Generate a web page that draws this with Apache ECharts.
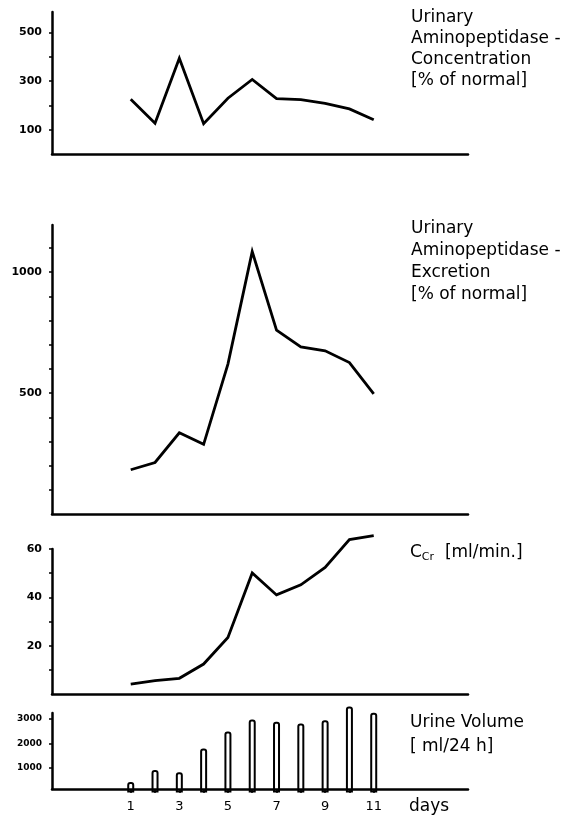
<!DOCTYPE html>
<html>
<head>
<meta charset="utf-8">
<title>Urinary aminopeptidase</title>
<script src="https://cdn.jsdelivr.net/npm/echarts@6/dist/echarts.min.js"></script>
<style>
  html, body { margin: 0; padding: 0; background: #fff; }
  #chart { width: 578px; height: 818px; }
</style>
</head>
<body>
<div id="chart"></div>
<script>
// days of observation
const days = [1, 2, 3, 4, 5, 6, 7, 8, 9, 10, 11]
const dayLabels = [1, 3, 5, 7, 9, 11]

// urinary aminopeptidase concentration [% of normal]
const concentration = [226, 127, 394, 125, 230, 307, 228, 224, 209, 186, 141]
// urinary aminopeptidase excretion [% of normal]
const excretion = [183, 213, 336, 288, 620, 1085, 760, 691, 675, 626, 497]
// creatinine clearance [ml/min.]
const clearance = [4.1, 5.5, 6.5, 12.4, 23.4, 50.1, 41, 45.2, 52.4, 63.9, 65.5]
// urine volume [ml/24 h]
const urineVolume = [430, 920, 820, 1790, 2490, 2970, 2880, 2810, 2940, 3510, 3250]

// y ticks and labels per panel
const concTicks = [100, 200, 300, 400, 500]
const concLabels = [100, 300, 500]
const excrTicks = [100, 200, 300, 400, 500, 600, 700, 800, 900, 1000, 1100]
const excrLabels = [500, 1000]
const clearTicks = [10, 20, 30, 40, 50, 60]
const clearLabels = [20, 40, 60]
const volTicks = [1000, 2000, 3000]
const volLabels = [1000, 2000, 3000]

const pairs = function(values) {
  return values.map(function(v, i) { return [days[i], v] })
}

const LABEL_FONT = 'DejaVu Sans'
const TEXT_FONT = '17px "DejaVu Sans"'

function axisLine() {
  return { show: true, onZero: false, lineStyle: { color: '#000', width: 2.5 } }
}

function xAxisFor(gridIndex, bottom) {
  return {
    type: 'value',
    gridIndex: gridIndex,
    min: -2.24,
    max: 14.88,
    z: 3,
    splitLine: { show: false },
    axisLine: axisLine(),
    axisTick: bottom
      ? { show: true, customValues: days, length: 4, lineStyle: { color: '#000', width: 1.5 } }
      : { show: false },
    axisLabel: bottom
      ? {
        show: true,
        customValues: dayLabels,
        formatter: function(v) { return String(v) },
        color: '#000',
        fontSize: 13,
        fontFamily: LABEL_FONT,
        margin: 11
      }
      : { show: false }
  }
}

function yAxisFor(gridIndex, min, max, ticks, labels, size) {
  return {
    type: 'value',
    gridIndex: gridIndex,
    min: min,
    max: max,
    splitLine: { show: false },
    axisLine: axisLine(),
    axisTick: { show: true, customValues: ticks, length: 3, lineStyle: { color: '#000', width: 1.5 } },
    axisLabel: {
      show: true,
      customValues: labels,
      formatter: function(v) { return String(v) },
      color: '#000',
      fontSize: size,
      fontWeight: 'bold',
      fontFamily: LABEL_FONT,
      margin: 10
    }
  }
}

function lineSeries(idx, values) {
  return {
    type: 'line',
    xAxisIndex: idx,
    yAxisIndex: idx,
    data: pairs(values),
    symbol: 'none',
    clip: false,
    lineStyle: { color: '#000', width: 2.8, join: 'miter' },
    silent: true
  }
}

function textLines(x, ys, lines) {
  return lines.map(function(t, i) {
    return {
      type: 'text',
      left: x,
      top: ys[i] - 10,
      style: { text: t, fill: '#000', font: TEXT_FONT }
    }
  })
}

const chart = echarts.init(document.getElementById('chart'), null, { renderer: 'canvas' })

chart.setOption({
  backgroundColor: '#fff',
  animation: false,
  grid: [
    { left: 52, top: 12, width: 416, height: 142 },
    { left: 52, top: 225, width: 416, height: 289 },
    { left: 52, top: 549, width: 416, height: 145 },
    { left: 52, top: 713, width: 416, height: 76 }
  ],
  xAxis: [
    xAxisFor(0, false),
    xAxisFor(1, false),
    xAxisFor(2, false),
    xAxisFor(3, true)
  ],
  yAxis: [
    yAxisFor(0, 0, 585, concTicks, concLabels, 11),
    yAxisFor(1, 0, 1195, excrTicks, excrLabels, 11),
    yAxisFor(2, 0, 60, clearTicks, clearLabels, 11),
    yAxisFor(3, 140, 3240, volTicks, volLabels, 9)
  ],
  series: [
    lineSeries(0, concentration),
    lineSeries(1, excretion),
    lineSeries(2, clearance),
    {
      type: 'bar',
      xAxisIndex: 3,
      yAxisIndex: 3,
      data: pairs(urineVolume),
      barWidth: 7,
      clip: false,
      silent: true,
      itemStyle: { color: '#fff', borderColor: '#000', borderWidth: 2, borderRadius: [2, 2, 0, 0] }
    }
  ],
  graphic: [].concat(
    textLines(411, [19, 40, 61, 82], ['Urinary', 'Aminopeptidase -', 'Concentration', '[% of normal]']),
    textLines(411, [230, 252, 274, 296], ['Urinary', 'Aminopeptidase -', 'Excretion', '[% of normal]']),
    [{
      type: 'text',
      left: 410,
      top: 544,
      style: {
        text: '{c|C}{s|Cr}{c|  [ml/min.]}',
        rich: {
          c: { fill: '#000', font: TEXT_FONT },
          s: { fill: '#000', font: '11px "DejaVu Sans"', padding: [9, 0, 0, 0] }
        }
      }
    }],
    textLines(410, [724, 748], ['Urine Volume', '[ ml/24 h]']),
    [{
      type: 'text',
      left: 409,
      top: 798,
      style: { text: 'days', fill: '#000', font: TEXT_FONT }
    }]
  )
})
</script>
</body>
</html>
